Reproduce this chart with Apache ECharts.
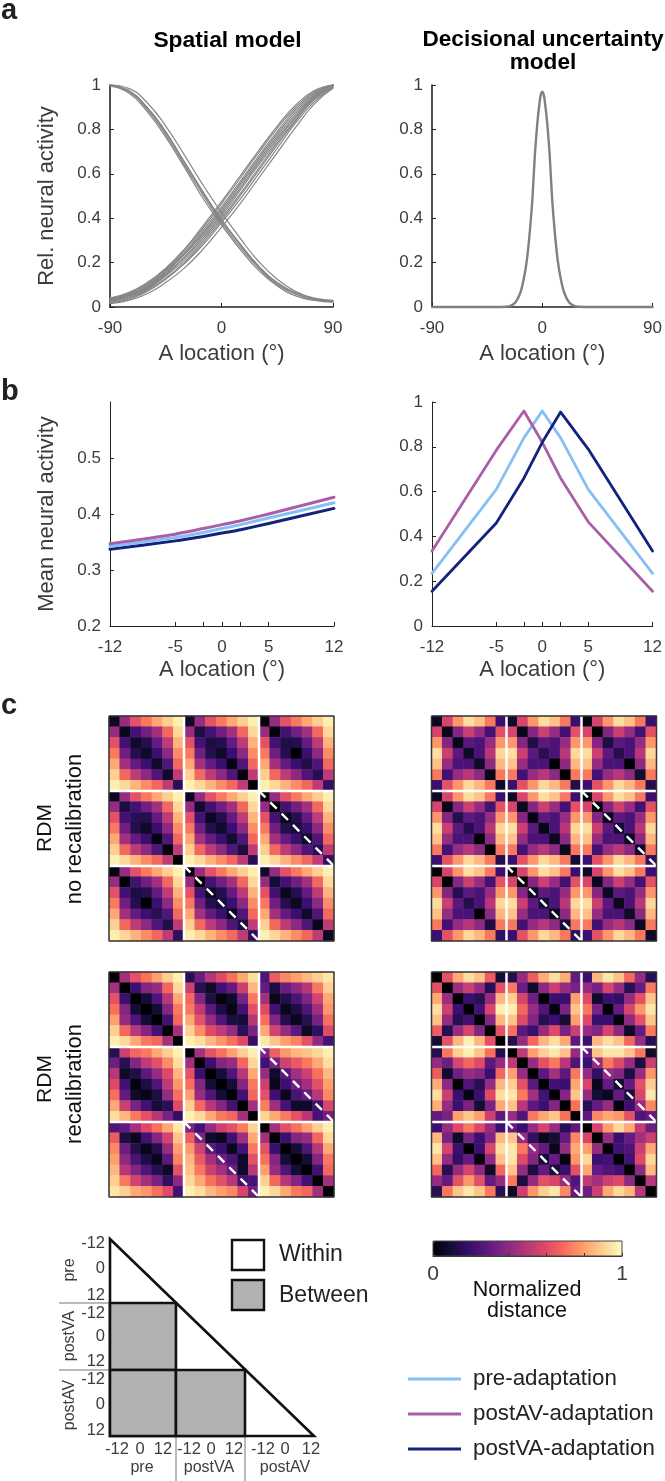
<!DOCTYPE html>
<html><head><meta charset="utf-8">
<style>html,body{margin:0;padding:0;background:#fff}#c{width:665px;height:1481px}</style>
<script src="https://cdn.jsdelivr.net/npm/echarts@6/dist/echarts.min.js"></script>
</head><body><div id="c"></div>
<script>
// ---------- panel a ----------
const spatialX = [-90,-75,-60,-45,-30,-15,0,15,30,45,60,75,90];
const spatialRising = [
 [.04,.065,.11,.175,.26,.365,.475,.59,.705,.815,.91,.975,1],
 [.04,.06,.105,.17,.255,.355,.465,.58,.695,.805,.90,.97,1],
 [.035,.06,.10,.165,.245,.345,.45,.565,.68,.79,.89,.965,1],
 [.035,.055,.095,.16,.24,.335,.44,.555,.67,.78,.88,.96,1],
 [.03,.055,.09,.155,.235,.33,.43,.545,.66,.77,.87,.955,1],
 [.03,.05,.085,.15,.225,.32,.42,.535,.65,.76,.86,.95,1],
 [.025,.05,.085,.145,.22,.31,.41,.525,.64,.75,.855,.945,.995],
 [.025,.045,.08,.14,.21,.30,.40,.51,.625,.74,.845,.94,.995],
 [.02,.04,.075,.13,.20,.29,.39,.50,.615,.73,.84,.935,.99],
 [.02,.035,.07,.125,.195,.28,.38,.485,.60,.715,.83,.925,.99],
 [.015,.03,.06,.11,.175,.26,.36,.465,.58,.695,.81,.915,.985]
];
const spatialFalling = [
 [1,.985,.92,.815,.685,.55,.425,.31,.205,.125,.07,.04,.03],
 [1,.975,.90,.79,.655,.52,.395,.285,.185,.11,.065,.038,.028],
 [1,.975,.895,.785,.65,.515,.39,.28,.18,.105,.06,.035,.025],
 [.995,.97,.89,.775,.64,.505,.38,.27,.175,.10,.058,.033,.024],
 [.995,.965,.88,.765,.63,.49,.37,.26,.165,.095,.05,.03,.022]
];
const decisionX = [-90,-40,-30,-26,-22,-18,-15,-12.6,-10,-8,-6,-4,-2,-1,0,1,2,4,6,8,10,12.6,15,18,22,26,30,40,90];
const decisionY = [0,0,.001,.005,.02,.063,.13,.21,.35,.49,.69,.83,.93,.96,.97,.96,.93,.83,.69,.49,.35,.21,.13,.063,.02,.005,.001,0,0];

// ---------- panel b ----------
const adaptX = [-12,-5,-2,0,2,5,12];
const spatialPre = [.342,.358,.367,.374,.381,.393,.420];
const spatialAV  = [.347,.364,.374,.381,.388,.400,.430];
const spatialVA  = [.337,.352,.360,.366,.372,.383,.410];
const decisionPre = [.235,.61,.84,.96,.84,.61,.235];
const decisionAV  = [.335,.785,.96,.82,.66,.465,.155];
const decisionVA  = [.155,.46,.66,.82,.955,.79,.335];

// ---------- panel c : blocks, values in percent ----------
const nrSpatialBase = [
 [ 5,42,62,72,82,90,97],
 [42, 5,22,33,45,68,92],
 [62,22, 8,14,30,52,84],
 [72,33,14, 5,20,40,76],
 [82,45,30,20, 5,25,68],
 [90,68,52,40,25, 5,52],
 [97,92,84,76,68,52, 8]];
const nrSpatialDiag = [
 [[6,5,7,7,8,8,15],[7,12,12,7,3,2,0],[2,2,13,0,13,15,18]],
 [[6,12,15,7,3,2,0],[6,8,6,8,9,12,15],[2,0,4,10,8,15,18]],
 [[3,0,12,0,15,13,17],[2,0,6,10,6,12,17],[8,10,5,6,8,4,6]]];
const nrDecisionBase = [
 [ 7,58,78,93,87,72,20],
 [58, 7,38,55,42,22,62],
 [78,38, 7,28,24,42,78],
 [93,55,28,10,24,50,92],
 [87,42,24,24, 7,40,85],
 [72,22,42,50,40, 5,72],
 [20,62,78,92,85,72, 8]];
const nrDecisionDiag = [
 [[6,5,4,7,7,5,7],[8,5,13,15,0,0,13],[2,0,12,14,0,9,14]],
 [[6,4,14,14,0,0,14],[7,6,3,4,6,6,10],[3,2,5,10,6,8,17]],
 [[0,0,14,14,0,12,17],[2,0,7,10,5,10,17],[7,5,6,6,7,6,7]]];

const rcSpatial00 = [
 [ 0,45,62,70,80,90,97],
 [45, 0,20,38,42,68,92],
 [62,20, 0,10,25,50,82],
 [70,38,10, 0,10,38,72],
 [80,42,25,10, 0,22,68],
 [90,68,50,38,22, 0,45],
 [97,92,82,72,68,45, 0]];
const rcSpatial01 = [
 [15,32,50,60,70,82,93],
 [55,15, 7,22,30,55,85],
 [68,38,13, 2, 8,35,72],
 [72,52,28,12, 4,22,62],
 [82,62,42,25,12,10,50],
 [90,76,60,52,42,16,35],
 [97,93,85,78,70,60,18]];
const rcSpatial02 = [
 [25,65,75,80,85,90,95],
 [30,12,32,40,50,72,90],
 [45, 5,14,24,37,57,82],
 [60,22, 5,12,25,45,78],
 [70,38,14, 5,15,35,70],
 [82,57,42,28, 7,17,60],
 [95,88,80,74,62,40,22]];
const rcSpatial12 = [
 [36,66,79,85,88,92,97],
 [22,35,56,64,72,82,93],
 [42, 8,28,45,55,70,85],
 [55, 5,20,33,45,62,80],
 [62,21, 5,24,31,50,75],
 [73,44,23, 8, 8,22,58],
 [91,82,72,62,50,23,33]];
const rcDecision00 = [
 [ 0,62,82,93,87,65,10],
 [62, 0,43,55,42,15,62],
 [82,43, 0,20,15,42,85],
 [93,55,20, 0,22,58,97],
 [87,42,15,22, 0,38,85],
 [65,15,42,58,38, 0,62],
 [10,62,85,97,85,62, 0]];
const rcDecision01 = [
 [14,42,65,83,93,83,30],
 [72,32, 8,40,55,42,35],
 [90,58,33, 0,20,20,80],
 [97,68,42,25, 3,35,88],
 [88,60,38,15,20,10,80],
 [70,28,20,42,60,35,55],
 [14,42,68,85,93,82,28]];
const rcDecision02 = [
 [20,85,95,87,68,42,15],
 [42,35,58,42,15,30,72],
 [60, 8,20,18,42,62,88],
 [72,35, 0,30,58,78,95],
 [60,20,20, 2,40,62,88],
 [42,38,58,40, 7,30,72],
 [20,85,93,87,68,42,15]];
const rcDecision11 = [
 [ 0,52,80,90,95,87,42],
 [52, 0,42,62,72,50,25],
 [80,42, 0,28,45,28,72],
 [90,62,28, 0,22,20,82],
 [95,72,45,22, 0,38,88],
 [87,50,28,20,38, 0,70],
 [42,25,72,82,88,70, 0]];
const rcDecision12 = [
 [30,88,95,95,88,72, 7],
 [20,42,72,60,42,12,55],
 [42,18,42,38,12,42,78],
 [58, 5,30,10,30,62,90],
 [42,10, 5,30,12,58,95],
 [15,30,42, 2,20,42,75],
 [28,75,82,78,62,25,30]];
const rcDecision22 = [
 [ 0,58,80,92,82,52,32],
 [58, 0,42,20,30,45,55],
 [80,42, 0,22,25,55,82],
 [92,20,22, 0,22,60,92],
 [82,30,25,22, 0,40,85],
 [52,45,55,60,40, 0,50],
 [32,55,82,92,85,50, 0]];

const magma = ['#000004','#140e36','#3b0f70','#641a80','#8c2981','#b73779','#de4968','#f7705c','#fe9f6d','#fecf92','#fcfdbf'];
const separatorA = [[7,0],[7,21]], separatorB = [[14,0],[14,21]], separatorC = [[0,7],[21,7]], separatorD = [[0,14],[21,14]];
const dashedA = [[14,7],[21,14]], dashedB = [[7,14],[14,21]];
const frameLine = [[0,0],[21,0],[21,21],[0,21],[0,0]];
const cellNames = Array.from({length:21},(_,i)=>i);

// ---------- schematic ----------
const schemOuter = [[0,0],[3,3],[0,3]];
const schemBetween = [
 [[0,.975],[.97,.975],[.97,1.995],[0,1.995]],
 [[0,1.995],[.97,1.995],[.97,3],[0,3]],
 [[.97,1.995],[1.985,1.995],[1.985,3],[.97,3]]];
const schemXLabels = ['-12','0','12','-12','0','12','-12','0','12'];
const schemYLabels = ['-12','0','12','-12','0','12','-12','0','12'];

// ---------- helpers ----------
const FONT = '"Liberation Sans", Arial, sans-serif';
const axisColor = '#222', labelColor = '#3c3c3c';
const grids=[], xAxes=[], yAxes=[], series=[];
function addGrid(g,x,y){const i=grids.length;grids.push(g);xAxes.push(Object.assign({gridIndex:i},x));yAxes.push(Object.assign({gridIndex:i},y));return i;}
function plotAxes(g,xc,yc,lw,xname,yname,xGap){
  const common={axisLine:{show:true,onZero:false,lineStyle:{color:axisColor,width:lw}},
    axisTick:{show:true,inside:true,length:4,lineStyle:{color:axisColor,width:1}},
    splitLine:{show:false},
    axisLabel:{color:labelColor,fontFamily:FONT,fontSize:17,margin:9,hideOverlap:false}};
  const x=Object.assign({type:'value',nameLocation:'middle',name:xname,nameGap:xGap,
     nameTextStyle:{color:labelColor,fontFamily:FONT,fontSize:22}},common,xc);
  x.axisLabel=Object.assign({},common.axisLabel,{margin:12.5},xc.axisLabel||{});
  x.axisTick=Object.assign({},common.axisTick,xc.axisTick||{});
  const y=Object.assign({type:'value',nameLocation:'middle',name:yname||'',nameGap:52,
     nameTextStyle:{color:labelColor,fontFamily:FONT,fontSize:22}},common,yc);
  y.axisLabel=Object.assign({},common.axisLabel,yc.axisLabel||{});
  y.axisTick=Object.assign({},common.axisTick,yc.axisTick||{});
  return addGrid(g,x,y);
}
const pair=(xs,ys)=>xs.map((x,i)=>[x,ys[i]]);
const line=(gi,name,xs,ys,color,w,smooth)=>series.push({type:'line',name,xAxisIndex:gi,yAxisIndex:gi,data:pair(xs,ys),
   showSymbol:false,symbol:'none',smooth:smooth||false,clip:false,silent:true,itemStyle:{color},lineStyle:{color,width:w,cap:'round',join:'round'}});

// a-left
const xa={min:-90,max:90,interval:90};
const ya={min:0,max:1,interval:.2,axisLabel:{formatter:v=>String(+v.toFixed(1))}};
const g0=plotAxes({left:110,top:85,width:223,height:222},xa,ya,1.6,'A location (°)','Rel. neural activity',36);
spatialRising.forEach(r=>line(g0,'',spatialX,r,'#858585',1.2,.5));
spatialFalling.forEach(r=>line(g0,'',spatialX,r,'#858585',1.2,.5));
// a-right
const g1=plotAxes({left:432,top:85,width:224,height:222},xa,ya,1.6,'A location (°)','',36);
line(g1,'',decisionX,decisionY,'#808080',2.4,.2);
// b-left
const xb={min:-12,max:12,axisTick:{customValues:adaptX},axisLabel:{customValues:[-12,-5,0,5,12]}};
const g2=plotAxes({left:110,top:402,width:224,height:224},xb,{min:.2,max:.6,interval:.1,axisLabel:{customValues:[.2,.3,.4,.5],formatter:v=>v.toFixed(1)},axisTick:{customValues:[.2,.3,.4,.5]}},1,'A location (°)','Mean neural activity',33);
const cPre='#85c0f5',cAV='#aa5ea8',cVA='#14227e';
line(g2,'postVA-adaptation',adaptX,spatialVA,cVA,3,.2);
line(g2,'pre-adaptation',adaptX,spatialPre,cPre,3,.2);
line(g2,'postAV-adaptation',adaptX,spatialAV,cAV,3,.2);
// b-right
const g3=plotAxes({left:432,top:402,width:224,height:224},xb,{min:0,max:1,interval:.2,axisLabel:{formatter:v=>String(+v.toFixed(1))}},1,'A location (°)','',33);
line(g3,'pre-adaptation',adaptX,decisionPre,cPre,2.8);
line(g3,'postAV-adaptation',adaptX,decisionAV,cAV,2.8);
line(g3,'postVA-adaptation',adaptX,decisionVA,cVA,2.8);

// heatmaps
const T=m=>m[0].map((_,c)=>m.map(r=>r[c]));
const withDiag=(base,d)=>base.map((r,i)=>r.map((v,j)=>i===j?d[i]:v));
const nrBlocks=(base,dg)=>dg.map(row=>row.map(d=>withDiag(base,d)));
const rcBlocks=(b00,b01,b02,b11,b12,b22)=>[[b00,b01,b02],[T(b01),b11,b12],[T(b02),T(b12),b22]];
function flatten(blocks){const out=[];
  for(let R=0;R<3;R++)for(let C=0;C<3;C++)for(let i=0;i<7;i++)for(let j=0;j<7;j++)
    out.push([C*7+j,R*7+i,blocks[R][C][i][j]/100]);
  return out;}
const heatIdx=[];
function heat(left,top,blocks){
  const rect={left,top,width:225,height:225};
  const gi=addGrid(rect,{type:'category',data:cellNames,show:false},{type:'category',data:cellNames,inverse:true,show:false});
  heatIdx.push(series.length);
  series.push({type:'heatmap',xAxisIndex:gi,yAxisIndex:gi,data:flatten(blocks),silent:true,emphasis:{disabled:true},progressive:0});
  const go=addGrid(rect,{type:'value',min:0,max:21,show:false},{type:'value',min:0,max:21,inverse:true,show:false});
  [separatorA,separatorB,separatorC,separatorD].forEach(s=>series.push({type:'line',xAxisIndex:go,yAxisIndex:go,data:s,symbol:'none',clip:true,silent:true,z:5,lineStyle:{color:'#fff',width:2.5}}));
  [dashedA,dashedB].forEach(s=>series.push({type:'line',xAxisIndex:go,yAxisIndex:go,data:s,symbol:'none',clip:true,silent:true,z:5,lineStyle:{color:'#fff',width:2.4,type:[9,7]}}));
  series.push({type:'line',xAxisIndex:go,yAxisIndex:go,data:frameLine,symbol:'none',clip:false,silent:true,z:6,lineStyle:{color:'#333',width:1.5}});
}
heat(109,716,nrBlocks(nrSpatialBase,nrSpatialDiag));
heat(431.5,716,nrBlocks(nrDecisionBase,nrDecisionDiag));
heat(109,972,rcBlocks(rcSpatial00,rcSpatial01,rcSpatial02,rcSpatial00,rcSpatial12,rcSpatial00));
heat(431.5,972,rcBlocks(rcDecision00,rcDecision01,rcDecision02,rcDecision11,rcDecision12,rcDecision22));

// colourbar axis
addGrid({left:433,top:1241,width:189,height:15},
  {type:'value',min:0,max:1,interval:.2,z:6,position:'bottom',
   axisLine:{show:true,onZero:false,lineStyle:{color:'#333',width:1}},
   axisTick:{show:true,inside:true,length:3,lineStyle:{color:'#333',width:1}},splitLine:{show:false},
   axisLabel:{customValues:[0,1],color:labelColor,fontFamily:FONT,fontSize:21,margin:8}},
  {type:'value',min:0,max:1,show:false});

// schematic
const sg=addGrid({left:110,top:1239,width:204,height:197},{type:'value',min:0,max:3,show:false},{type:'value',min:0,max:3,inverse:true,show:false});
const schemAll=[{p:schemOuter,fill:'#fff'}].concat(schemBetween.map(p=>({p,fill:'#b2b2b2'})));
series.push({type:'custom',xAxisIndex:sg,yAxisIndex:sg,silent:true,clip:false,data:schemAll.map((_,i)=>[i]),
  renderItem:(params,api)=>{const o=schemAll[params.dataIndex];
    return {type:'polygon',shape:{points:o.p.map(q=>api.coord(q))},style:{fill:o.fill,stroke:'#111',lineWidth:2.6,lineJoin:'miter'}};}});

// text & marks outside the plots
const el=[];
function txt(x,y,text,size,o){o=o||{};el.push({type:'text',x,y,rotation:o.rot||0,silent:true,z:10,
  style:{text,fontSize:size,fontFamily:FONT,fontWeight:o.w||'normal',fill:o.c||'#111',align:o.a||'center',verticalAlign:'middle',lineHeight:o.lh}});}
const R90=Math.PI/2;
txt(1,11,'a',29,{w:'bold',a:'left',c:'#222'});
txt(1,392,'b',29,{w:'bold',a:'left',c:'#222'});
txt(1,706,'c',29,{w:'bold',a:'left',c:'#222'});
txt(227.5,41,'Spatial model',22.8,{w:'bold',c:'#000'});
txt(543,40,'Decisional uncertainty',22.6,{w:'bold',c:'#000'});
txt(543,63,'model',22.6,{w:'bold',c:'#000'});
txt(45,828,'RDM',21,{rot:R90});
txt(75,829,'no recalibration',22,{rot:R90});
txt(45,1079,'RDM',21,{rot:R90});
txt(75,1084,'recalibration',22,{rot:R90});
txt(527,1290,'Normalized',21.5);
txt(527,1311,'distance',21.5);
// colourbar frame
el.push({type:'rect',z:9,silent:true,shape:{x:433,y:1241,width:189,height:15},style:{fill:'none',stroke:'#444',lineWidth:1}});
// within / between legend
el.push({type:'rect',z:9,silent:true,shape:{x:232,y:1240,width:32,height:30},style:{fill:'#fff',stroke:'#111',lineWidth:2.4}});
el.push({type:'rect',z:9,silent:true,shape:{x:232,y:1280,width:32,height:30},style:{fill:'#b2b2b2',stroke:'#111',lineWidth:2.4}});
txt(279,1255,'Within',23,{a:'left',c:'#222'});
txt(279,1296,'Between',23,{a:'left',c:'#222'});
// schematic tick labels
const schemXPos=[117,140,163,189,211,234,263,285,311];
const schemYPos=[1243,1268,1295,1313,1336,1361,1379,1404,1430];
schemXLabels.forEach((t,i)=>txt(schemXPos[i],1449,t,16.5,{c:labelColor}));
schemYLabels.forEach((t,i)=>txt(105,schemYPos[i],t,16.5,{a:'right',c:labelColor}));
txt(142,1468,'pre',16,{c:labelColor});
txt(209,1468,'postVA',16,{c:labelColor});
txt(285,1468,'postAV',16,{c:labelColor});
txt(70,1270,'pre',16,{rot:R90,c:labelColor});
txt(70,1336,'postVA',16,{rot:R90,c:labelColor});
txt(70,1405,'postAV',16,{rot:R90,c:labelColor});
[[176,1437,176,1481],[245,1437,245,1481],[59,1303,109,1303],[59,1370,109,1370]].forEach(s=>
  el.push({type:'line',z:9,silent:true,shape:{x1:s[0],y1:s[1],x2:s[2],y2:s[3]},style:{stroke:'#777',lineWidth:1}}));

const chart=echarts.init(document.getElementById('c'),null,{renderer:'canvas',width:665,height:1481});
chart.setOption({
  animation:false,backgroundColor:'#fff',
  grid:grids,xAxis:xAxes,yAxis:yAxes,series,
  visualMap:{type:'continuous',min:0,max:1,seriesIndex:heatIdx,orient:'horizontal',left:433,top:1241,padding:0,
    itemWidth:15,itemHeight:189,calculable:false,realtime:false,showLabel:false,text:['',''],textGap:0,
    inRange:{color:magma}},
  legend:{orient:'vertical',left:408,top:1368,padding:0,itemWidth:53,itemHeight:3,itemGap:13,icon:'rect',selectedMode:false,
    data:['pre-adaptation','postAV-adaptation','postVA-adaptation'],
    textStyle:{fontFamily:FONT,fontSize:22.3,color:'#222',padding:[0,0,0,7]}},
  graphic:{elements:el}
});
</script></body></html>
